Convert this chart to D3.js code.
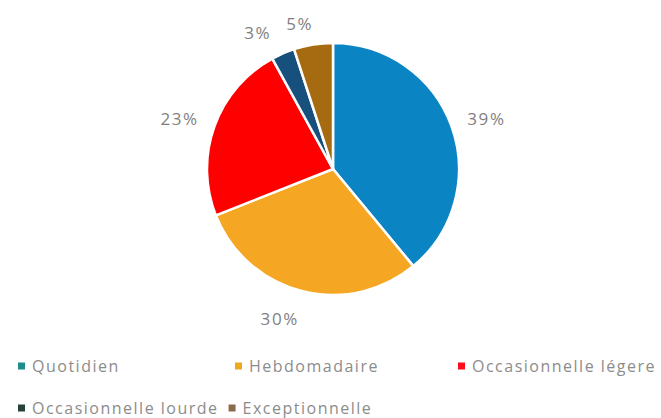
<!DOCTYPE html>
<html>
<head>
<meta charset="utf-8">
<script src="https://cdn.jsdelivr.net/npm/d3@7"></script>
<style>
  html, body { margin: 0; padding: 0; background: #ffffff; }
  svg { display: block; }
  text { font-family: "Open Sans", sans-serif; }
</style>
</head>
<body>
<svg id="chart" width="661" height="418"></svg>
<script>
// Frequency categories and their share (%)
const categories = ["Quotidien", "Hebdomadaire", "Occasionnelle légere", "Occasionnelle lourde", "Exceptionnelle"];
const shares = [39, 30, 23, 3, 5];

// Slice fills and legend swatch fills
const sliceColors = ["#0b84c4", "#f5a623", "#fe0000", "#17507c", "#a66b10"];
const swatchColors = ["#1f8c8c", "#eeaa1e", "#ff0a1e", "#24443c", "#8c6a4c"];

// Best-fit style nudges for the percentage labels (px)
const labelNudge = [[1, 4], [-13, -7], [-1, 4], [-11, 12], [-8, 14]];

const width = 661, height = 418;
const cx = 333, cy = 169, radius = 126;

const svg = d3.select("#chart");
const data = categories.map((c, i) => ({ name: c, value: shares[i], i }));

const pie = d3.pie().value(d => d.value).sort(null);
const arcs = pie(data);

const arc = d3.arc().innerRadius(0).outerRadius(radius);
const labelArc = d3.arc().innerRadius(162).outerRadius(162);

const g = svg.append("g").attr("transform", `translate(${cx},${cy})`);

g.selectAll("path.slice")
  .data(arcs)
  .join("path")
  .attr("class", "slice")
  .attr("d", arc)
  .attr("fill", d => sliceColors[d.data.i])
  .attr("stroke", "#ffffff")
  .attr("stroke-width", 2.5)
  .attr("stroke-linejoin", "round");

g.selectAll("text.pct")
  .data(arcs)
  .join("text")
  .attr("class", "pct")
  .attr("x", d => labelArc.centroid(d)[0] + labelNudge[d.data.i][0])
  .attr("y", d => labelArc.centroid(d)[1] + labelNudge[d.data.i][1])
  .attr("text-anchor", "middle")
  .attr("dominant-baseline", "central")
  .attr("font-size", 17)
  .attr("letter-spacing", 1.6)
  .attr("fill", "#7f7f7f")
  .text(d => d.data.value + "%");

// Legend: first row on fixed columns, second row flows after each entry
const legend = svg.append("g");
const rowY = [366, 408];
const colX = [18, 235, 458];
const sw = 7, gap = 7;

let flowX = colX[0];
data.forEach((d, idx) => {
  const row = idx < 3 ? 0 : 1;
  const x = row === 0 ? colX[idx] : flowX;
  const item = legend.append("g").attr("transform", `translate(${x},${rowY[row]})`);
  item.append("rect")
    .attr("x", 0).attr("y", -sw / 2)
    .attr("width", sw).attr("height", sw)
    .attr("fill", swatchColors[d.i]);
  const t = item.append("text")
    .attr("x", sw + gap)
    .attr("y", 0)
    .attr("dominant-baseline", "central")
    .attr("font-size", 16)
    .attr("letter-spacing", 1.5)
    .attr("fill", "#8c8c8c")
    .text(d.name);
  if (row === 1) {
    flowX = x + sw + gap + t.node().getComputedTextLength() + 10;
  }
});
</script>
</body>
</html>
